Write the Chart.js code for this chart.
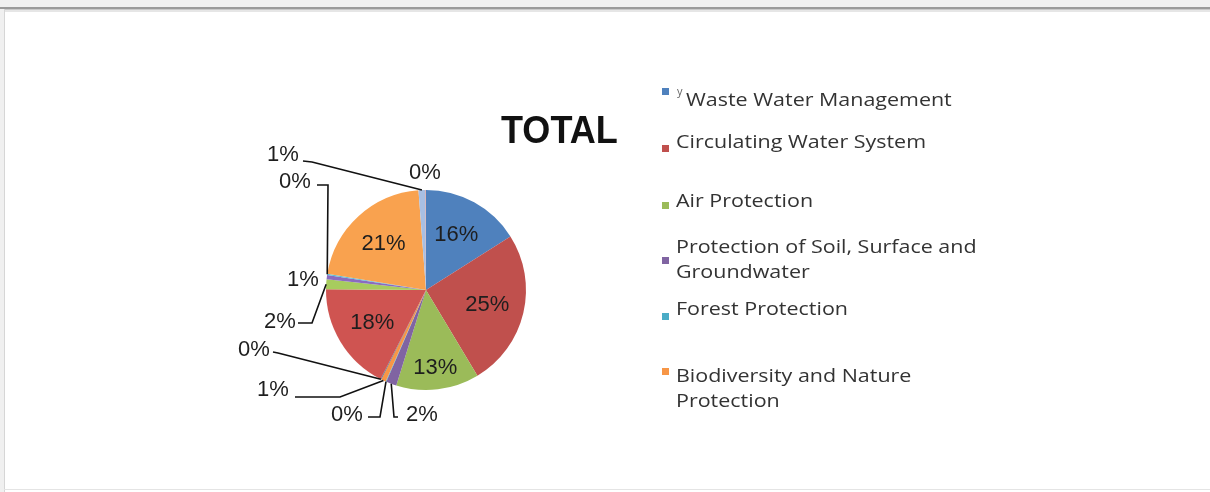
<!DOCTYPE html>
<html>
<head>
<meta charset="utf-8">
<title>TOTAL</title>
<script src="https://cdn.jsdelivr.net/npm/chart.js@4.4.0/dist/chart.umd.min.js"></script>
<style>
  html, body { margin: 0; padding: 0; background: #fff; }
  #wrap { position: relative; width: 1210px; height: 492px; }
</style>
</head>
<body>
<div id="wrap"><canvas id="totalPie"></canvas></div>
<script>
// slices clockwise from 12 o'clock, shares in %
const categories = [
  'Waste Water Management', 'Circulating Water System', 'Air Protection',
  'Protection of Soil, Surface and Groundwater', 'Forest Protection', 'Biodiversity and Nature Protection',
  'Waste Water Management', 'Circulating Water System', 'Air Protection',
  'Protection of Soil, Surface and Groundwater', 'Forest Protection', 'Biodiversity and Nature Protection',
  'Waste Water Management', 'Circulating Water System'
];
const shares = [16.0, 25.4, 13.4, 1.7, 0.1, 0.8, 0.1, 17.6, 1.6, 0.7, 0.2, 21.2, 1.1, 0.1];
const sliceColors = [
  '#4F81BD', '#C0504D', '#9BBB59', '#8064A2', '#4BACC6', '#F79646',
  '#3B6699', '#CF5451', '#A7CC5E', '#8A6BC0', '#5DBFD8', '#F9A24F',
  '#A8BFE3', '#DA9896'
];
// the legend only lists the first six categories
const legendCount = 6;
const chartTitle = 'TOTAL';

// ---- layout (pixels) ----
const labelFont = '22px "Liberation Sans", Arial, sans-serif';
const insideRadius = { 2: 0.78 };   // default 0.63 of the radius
// labels placed outside: text centre and leader-line bends, relative to the pie centre
const callouts = {
  3:  { at: [-4, 125],    path: [[-32, 127], [-28, 127]] },
  4:  { at: [-79, 125],   path: [[-46, 127], [-58, 127]] },
  5:  { at: [-153, 100],  path: [[-86, 107], [-131, 107]] },
  6:  { at: [-172, 60],   path: [[-148, 63], [-153, 62]] },
  8:  { at: [-146, 32],   path: [[-114, 33], [-128, 33]] },
  9:  { at: [-123, -10],  path: null },
  10: { at: [-131, -108], path: [[-98, -105], [-109, -105]] },
  12: { at: [-143, -135], path: [[-114, -128], [-123, -129]] },
  13: { at: [-1, -117],   path: null }
};
const legendLayout = {
  x: 662, textX: 676, square: 7, lineHeight: 25.5, maxWidth: 320, stretch: 1.16,
  baselines: [106, 148, 206.5, 252.5, 314.5, 381.5],
  squareTops: [88, 145, 202, 257, 313, 368],
  font: '18.5px "Open Sans", sans-serif'
};

const framePlugin = {
  id: 'frame',
  beforeDraw(chart) {
    const ctx = chart.ctx, w = chart.width, h = chart.height;
    ctx.save();
    ctx.fillStyle = '#fff';
    ctx.fillRect(0, 0, w, h);
    ctx.fillStyle = '#f0f0f0';
    ctx.fillRect(0, 0, w, 7);
    ctx.fillRect(0, 0, 4, h);
    ctx.fillStyle = '#9a9a9a';
    ctx.fillRect(0, 7, w, 2);
    ctx.fillStyle = '#c8c8c8';
    ctx.fillRect(4, 9, w, 1);
    ctx.fillStyle = '#e6e6e6';
    ctx.fillRect(4, 10, w, 2);
    ctx.fillStyle = '#d6d6d6';
    ctx.fillRect(4, 9, 1, h - 9);
    ctx.fillStyle = '#e4e4e4';
    ctx.fillRect(4, h - 3, w, 1);
    ctx.restore();
  }
};

const titlePlugin = {
  id: 'sideTitle',
  afterDraw(chart) {
    const ctx = chart.ctx;
    ctx.save();
    ctx.fillStyle = '#111';
    ctx.font = 'bold 35px "Liberation Sans", Arial, sans-serif';
    ctx.textBaseline = 'alphabetic';
    ctx.translate(501, 143);
    ctx.scale(1.03, 1.1);
    ctx.fillText(chartTitle, 0, 0);
    ctx.restore();
  }
};

function wrapText(ctx, text, maxWidth) {
  const words = text.split(' ');
  const lines = [];
  let line = '';
  words.forEach(function (word) {
    const test = line ? line + ' ' + word : word;
    if (line && ctx.measureText(test).width > maxWidth) {
      lines.push(line);
      line = word;
    } else {
      line = test;
    }
  });
  lines.push(line);
  return lines;
}

const legendPlugin = {
  id: 'sideLegend',
  afterDraw(chart) {
    const ctx = chart.ctx, L = legendLayout;
    ctx.save();
    ctx.textBaseline = 'alphabetic';
    for (let i = 0; i < legendCount; i++) {
      ctx.fillStyle = sliceColors[i];
      ctx.fillRect(L.x, L.squareTops[i], L.square, L.square);
      let x = L.textX;
      if (i === 0) {
        // small stray "y" in front of the first entry
        ctx.font = '11px "Open Sans", sans-serif';
        ctx.fillStyle = '#666';
        ctx.fillText('y', L.textX + 1, L.baselines[0] - 11);
        x = L.textX + 10;
      }
      ctx.font = L.font;
      ctx.fillStyle = '#333';
      const lines = wrapText(ctx, categories[i], L.maxWidth / L.stretch);
      lines.forEach(function (line, k) {
        ctx.save();
        ctx.translate(x, L.baselines[i] + k * L.lineHeight);
        ctx.scale(L.stretch, 1);
        ctx.fillText(line, 0, 0);
        ctx.restore();
      });
    }
    ctx.restore();
  }
};

const pieLabels = {
  id: 'pieLabels',
  afterDatasetsDraw(chart) {
    const ctx = chart.ctx;
    const meta = chart.getDatasetMeta(0);
    const total = shares.reduce(function (a, b) { return a + b; }, 0);
    ctx.save();
    ctx.font = labelFont;
    ctx.fillStyle = '#1e1e1e';
    ctx.strokeStyle = '#111';
    ctx.lineWidth = 1.6;
    ctx.textAlign = 'center';
    ctx.textBaseline = 'middle';
    meta.data.forEach(function (arc, i) {
      const p = arc.getProps(['x', 'y', 'startAngle', 'endAngle', 'outerRadius'], true);
      const mid = (p.startAngle + p.endAngle) / 2;
      const text = Math.round(shares[i] / total * 100) + '%';
      const c = callouts[i];
      if (!c) {
        const r = p.outerRadius * (insideRadius[i] || 0.63);
        ctx.fillText(text, p.x + Math.cos(mid) * r, p.y + Math.sin(mid) * r);
        return;
      }
      if (c.path) {
        ctx.beginPath();
        ctx.moveTo(p.x + Math.cos(mid) * p.outerRadius, p.y + Math.sin(mid) * p.outerRadius);
        c.path.forEach(function (pt) { ctx.lineTo(p.x + pt[0], p.y + pt[1]); });
        ctx.stroke();
      }
      ctx.fillText(text, p.x + c.at[0], p.y + c.at[1]);
    });
    ctx.restore();
  }
};

document.addEventListener('DOMContentLoaded', function () {
  const canvas = document.getElementById('totalPie');
  window.totalPie = new Chart(canvas.getContext('2d'), {
    type: 'pie',
    data: {
      labels: categories,
      datasets: [{
        data: shares,
        backgroundColor: sliceColors,
        borderWidth: 0
      }]
    },
    options: {
      responsive: true,
      maintainAspectRatio: false,
      animation: false,
      layout: {
        // puts the pie centre at (426, 290) with a radius of 100
        padding: { left: 326, right: 684, top: 190, bottom: 102 }
      },
      plugins: {
        legend: { display: false },
        title: { display: false },
        tooltip: { enabled: false }
      }
    },
    plugins: [framePlugin, pieLabels, legendPlugin, titlePlugin]
  });
});
</script>
</body>
</html>
